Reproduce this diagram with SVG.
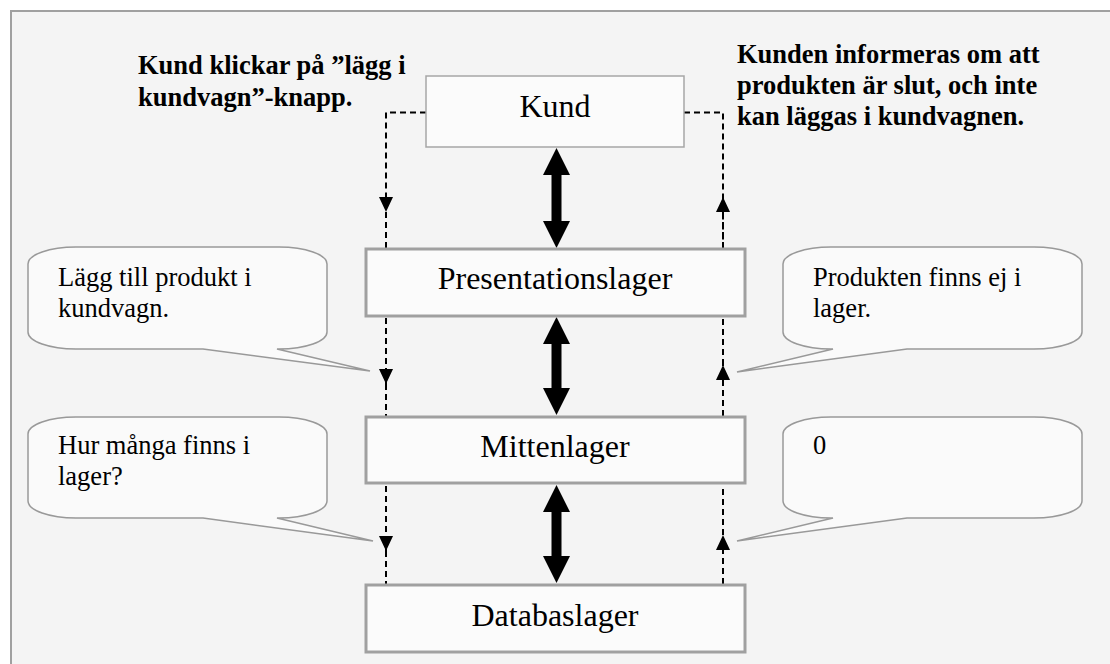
<svg xmlns="http://www.w3.org/2000/svg" width="1110" height="664" viewBox="0 0 1110 664">
<style>
.box{fill:#fbfbfb;stroke:#a0a0a0;stroke-width:3}
.lbl{font-family:"Liberation Serif","Times New Roman",serif;font-size:32px;fill:#000;text-anchor:middle}
.note{font-family:"Liberation Serif","Times New Roman",serif;font-size:26.5px;fill:#000}
.title{font-family:"Liberation Serif","Times New Roman",serif;font-size:26.5px;font-weight:bold;fill:#000}
.call{fill:#fafafa;stroke:#999;stroke-width:1.5}
.dash{fill:none;stroke:#000;stroke-width:2;stroke-dasharray:6 4}
.big{fill:#000}
</style>
<defs>
<marker id="ah" markerUnits="userSpaceOnUse" viewBox="0 0 15 14" refX="15" refY="7" markerWidth="15" markerHeight="14" orient="auto">
<path d="M0,0 L15,7 L0,14 Z" fill="#000"/>
</marker>
</defs>
<rect x="11" y="11" width="1112" height="668" fill="#f4f4f4" stroke="#a0a0a0" stroke-width="2"/>

<g id="title-left">
<text class="title" x="138" y="74">Kund klickar på ”lägg i</text>
<text class="title" x="138" y="106">kundvagn”-knapp.</text>
</g>
<g id="title-right">
<text class="title" x="737" y="63">Kunden informeras om att</text>
<text class="title" x="737" y="94">produkten är slut, och inte</text>
<text class="title" x="737" y="125">kan läggas i kundvagnen.</text>
</g>

<g id="callout-1">
<path class="call" d="M28,264 A48 17 0 0 1 76,247 H279 A48 17 0 0 1 327,264 V332 A48 17 0 0 1 279,349 H277 L370,371 L203,349 H76 A48 17 0 0 1 28,332 Z"/>
<text class="note" x="58" y="286">Lägg till produkt i</text>
<text class="note" x="58" y="317">kundvagn.</text>
</g>
<g id="callout-2">
<path class="call" d="M28,434 A48 17 0 0 1 76,417 H279 A48 17 0 0 1 327,434 V501 A48 17 0 0 1 279,518 H277 L373,541 L203,518 H76 A48 17 0 0 1 28,501 Z"/>
<text class="note" x="58" y="454">Hur många finns i</text>
<text class="note" x="58" y="485">lager?</text>
</g>
<g id="callout-3">
<path class="call" d="M783,264 A48 17 0 0 1 831,247 H1034 A48 17 0 0 1 1082,264 V332 A48 17 0 0 1 1034,349 H907 L737,372 L833,349 H831 A48 17 0 0 1 783,332 Z"/>
<text class="note" x="813" y="286">Produkten finns ej i</text>
<text class="note" x="813" y="317">lager.</text>
</g>
<g id="callout-4">
<path class="call" d="M783,434 A48 17 0 0 1 831,417 H1034 A48 17 0 0 1 1082,434 V501 A48 17 0 0 1 1034,518 H907 L737,541 L833,518 H831 A48 17 0 0 1 783,501 Z"/>
<text class="note" x="813" y="454">0</text>
</g>

<g id="connectors">
<path class="dash" d="M426,112.5 H386 V212" marker-end="url(#ah)"/>
<path class="dash" d="M386,212 V248"/>
<path class="dash" d="M386,318 V384" marker-end="url(#ah)"/>
<path class="dash" d="M386,384 V416"/>
<path class="dash" d="M386,486 V551" marker-end="url(#ah)"/>
<path class="dash" d="M386,551 V584"/>
<path class="dash" d="M684,112.5 H723 V248"/>
<path class="dash" d="M723,248 V197" marker-end="url(#ah)"/>
<path class="dash" d="M723,416 V365" marker-end="url(#ah)"/>
<path class="dash" d="M723,365 V318"/>
<path class="dash" d="M723,584 V535" marker-end="url(#ah)"/>
<path class="dash" d="M723,535 V486"/>
<polygon class="big" points="556.5,148 570,175 561.5,175 561.5,221 570,221 556.5,248 543,221 551.5,221 551.5,175 543,175"/>
<polygon class="big" points="556.5,317 570,344 561.5,344 561.5,388 570,388 556.5,415 543,388 551.5,388 551.5,344 543,344"/>
<polygon class="big" points="556.5,485 570,512 561.5,512 561.5,556 570,556 556.5,583 543,556 551.5,556 551.5,512 543,512"/>
</g>

<g id="kund">
<rect x="426" y="76" width="258" height="71" fill="#fbfbfb" stroke="#a6a6a6" stroke-width="1.5"/>
<text class="lbl" x="555" y="117">Kund</text>
</g>
<g id="presentationslager">
<rect class="box" x="366" y="249" width="379" height="67"/>
<text class="lbl" x="555" y="289">Presentationslager</text>
</g>
<g id="mittenlager">
<rect class="box" x="366" y="417" width="379" height="66"/>
<text class="lbl" x="555" y="457">Mittenlager</text>
</g>
<g id="databaslager">
<rect class="box" x="366" y="585" width="379" height="67"/>
<text class="lbl" x="555" y="626">Databaslager</text>
</g>
</svg>
